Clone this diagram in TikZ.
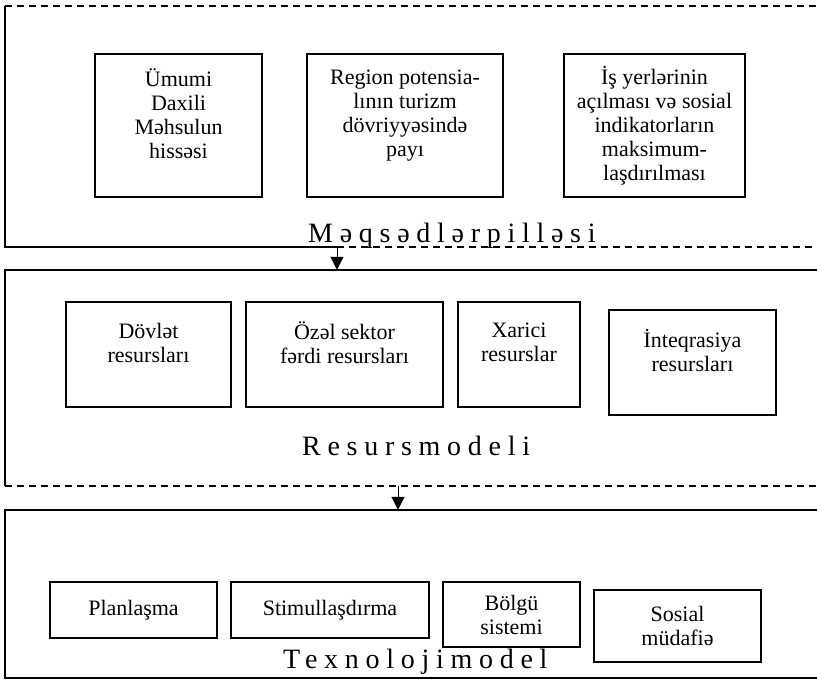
\documentclass[tikz,border=0pt]{standalone}
\usepackage{fontspec}
\setmainfont{Liberation Serif}
\newfontfamily\spacedfont[LetterSpace=24]{Liberation Serif}
\usetikzlibrary{arrows.meta}
\tikzstyle{frame} = [rectangle, minimum width=812pt, inner sep=0pt]
\tikzstyle{item} = [rectangle, draw, line width=1.3pt, inner sep=0pt, align=center, font=\fontsize{22}{24}\selectfont]
\tikzstyle{frameline} = [line width=1.8pt]
\tikzstyle{dashedline} = [line width=1.6pt, dash pattern=on 7pt off 5pt]
\tikzstyle{levelname} = [anchor=base west, inner sep=0pt, font=\spacedfont\fontsize{28}{30}\selectfont]
\tikzstyle{arrow} = [line width=1pt, -{Triangle[length=13pt,width=13pt]}]

\begin{document}
\begin{tikzpicture}[x=1pt, y=-1pt]
            \useasboundingbox (0,0) rectangle (817,680);
            \node [frame, minimum height=241pt] at (411,126.5) (goals) {};
            \node [frame, minimum height=216pt] at (411,378) (res) {};
            \node [frame, minimum height=168pt] at (411,594) (tech) {};
            \coordinate (a1) at (337,0);
            \coordinate (a2) at (398,0);

            \node [item, minimum width=167pt, minimum height=143pt] at (178.5,125.5) (gdp) {Ümumi\\Daxili\\Məhsulun\\hissəsi\\~};
            \node [item, minimum width=196pt, minimum height=143pt] at (405,125.5) (share) {Region potensia-\\lının turizm\\dövriyyəsində\\payı\\~};
            \node [item, minimum width=181pt, minimum height=143pt] at (654.5,125.5) (jobs) {İş yerlərinin\\açılması və sosial\\indikatorların\\maksimum-\\laşdırılması};
            \node [levelname] at (308,242) (goalsname) {Məqsədlərpilləsi};

            \node [item, minimum width=165pt, minimum height=105pt] at (148.5,354.5) (state) {Dövlət\\resursları\\~};
            \node [item, minimum width=197pt, minimum height=105pt] at (344.5,354.5) (private) {Özəl sektor\\fərdi resursları\\~};
            \node [item, minimum width=122pt, minimum height=105pt] at (519,354.5) (foreign) {Xarici\\resurslar\\~};
            \node [item, minimum width=167pt, minimum height=105pt] at (692.5,362.5) (integr) {İnteqrasiya\\resursları\\~};
            \node [levelname] at (302,455) (resname) {Resursmodeli};

            \node [item, minimum width=167pt, minimum height=56pt] at (133.5,610) (plan) {Planlaşma};
            \node [item, minimum width=198pt, minimum height=56pt] at (330,610) (stim) {Stimullaşdırma};
            \node [item, minimum width=137pt, minimum height=65pt] at (511.5,614.5) (distr) {Bölgü\\sistemi};
            \node [item, minimum width=167pt, minimum height=72pt] at (677.5,626) (social) {Sosial\\müdafiə};
            \node [levelname] at (283,668) (techname) {Texnolojimodel};

            \draw [dashedline] (goals.north west) -- (goals.north east);
            \draw [frameline] (goals.north west) -- (goals.south west) -- (goals.south -| a1);
            \draw [dashedline] (goals.south -| a1) -- (goals.south east);
            \draw [frameline] (res.north east) -- (res.north west) -- (res.south west);
            \draw [dashedline] (res.south west) -- (res.south east);
            \draw [frameline] (tech.north east) -- (tech.north west) -- (tech.south west) -- (tech.south east);

            \draw [arrow] (goals.south -| a1) -- (res.north -| a1);
            \draw [arrow] (res.south -| a2) -- (tech.north -| a2);
\end{tikzpicture}
\end{document}
